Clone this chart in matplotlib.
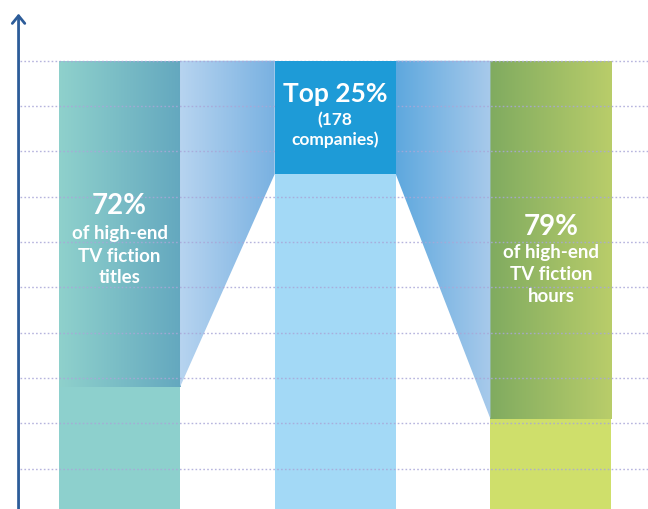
import matplotlib
matplotlib.use("Agg")
import matplotlib.pyplot as plt
import numpy as np
from matplotlib.colors import LinearSegmentedColormap
from matplotlib.patches import Polygon

plt.rcParams['font.family'] = ['Lato', 'DejaVu Sans']

# Data: each bar is 100%, split into a base part and a highlighted part
categories = ['titles', 'companies', 'hours']
base_values = [28, 75, 21]
top_values = [72, 25, 79]
gridlines = [10, 20, 30, 40, 50, 60, 70, 80, 90, 100]

base_colors = ['#8dd0cd', '#a3d9f6', '#cfdf6b']
top_gradients = [('#8fd1cc', '#64a8bf'), None, ('#80ab60', '#b9cd6a')]
top_solid = '#1e9bd7'
left_link = ('#b7d4f0', '#79b1e1')
right_link = ('#5ea8de', '#a8caeb')

fig = plt.figure(figsize=(6.48, 5.09), dpi=100)
ax = fig.add_axes([0, 0, 1, 1])
ax.set_xlim(-0.554, 2.450)
ax.set_ylim(1.1, 113.4)
ax.axis('off')

x = np.arange(len(categories))
width = 0.561

def grad_fill(patch, c0, c1, z):
    cmap = LinearSegmentedColormap.from_list('g', [c0, c1])
    bb = patch.get_extents().transformed(ax.transData.inverted())
    im = ax.imshow(np.linspace(0, 1, 256).reshape(1, -1), cmap=cmap, aspect='auto',
                   extent=[bb.x0, bb.x1, bb.y0, bb.y1], zorder=z, interpolation='bilinear')
    im.set_clip_path(patch)

base_bars = ax.bar(x, base_values, width=width, color=base_colors, zorder=2)
top_bars = ax.bar(x, top_values, width=width, bottom=base_values, color='none', zorder=2)

for i, bar in enumerate(top_bars):
    if top_gradients[i] is None:
        bar.set_facecolor(top_solid)
        bar.set_zorder(5)
    else:
        grad_fill(bar, top_gradients[i][0], top_gradients[i][1], 2)

# connectors between bars
totals = [b + t for b, t in zip(base_values, top_values)]
for (i, j), cols in zip([(0, 1), (1, 2)], [left_link, right_link]):
    xl = x[i] + width / 2
    xr = x[j] - width / 2
    poly = Polygon([(xl, totals[i]), (xr, totals[j]), (xr, base_values[j]), (xl, base_values[i])],
                   closed=True, facecolor='none', edgecolor='none', zorder=2)
    ax.add_patch(poly)
    grad_fill(poly, cols[0], cols[1], 2)

# dotted gridlines
for g in gridlines:
    ax.axhline(g, xmin=20 / 648, xmax=1, color='#a9a7d8', lw=1.0,
               linestyle=(0, (1.2, 1.6)), alpha=0.85, zorder=4)

# vertical axis with arrow
ax_x = -0.468
ax.annotate('', xy=(ax_x, 110.4), xytext=(ax_x, 1.1),
            arrowprops=dict(arrowstyle='->,head_length=0.55,head_width=0.45',
                            color='#2c5c99', lw=2, shrinkA=0, shrinkB=0), zorder=6)

# labels
ax.text(x[0], 66.1, '72%', ha='center', va='baseline', color='white',
        fontsize=20, fontweight='bold', zorder=7)
for yy, s in zip([60.7, 55.6, 51.0], ['of high-end', 'TV fiction', 'titles']):
    ax.text(x[0], yy, s, ha='center', va='baseline', color='white',
            fontsize=13.5, fontweight='bold', zorder=7)

ax.text(x[1], 90.9, 'Top 25%', ha='center', va='baseline', color='white',
        fontsize=19, fontweight='bold', zorder=7)
for yy, s in zip([85.8, 81.4], ['(178', 'companies)']):
    ax.text(x[1], yy, s, ha='center', va='baseline', color='white',
            fontsize=12.5, fontweight='bold', zorder=7)

ax.text(x[2], 61.5, '79%', ha='center', va='baseline', color='white',
        fontsize=20, fontweight='bold', zorder=7)
for yy, s in zip([56.5, 51.6, 46.8], ['of high-end', 'TV fiction', 'hours']):
    ax.text(x[2], yy, s, ha='center', va='baseline', color='white',
            fontsize=13.5, fontweight='bold', zorder=7)

fig.savefig('out.png', dpi=100)
